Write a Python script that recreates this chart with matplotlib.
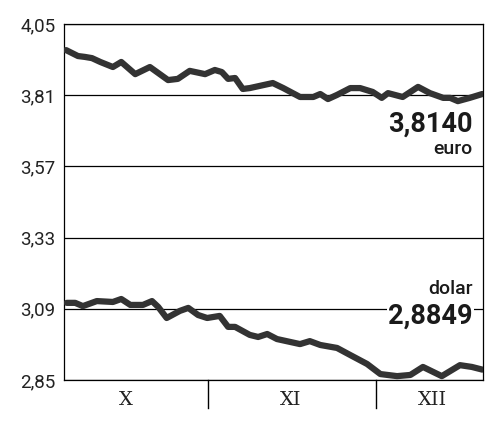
import matplotlib
matplotlib.use("Agg")
from matplotlib import pyplot as plt

# trading-day positions (0..60) and exchange rates
euro_x = [0.3, 2.0, 3.0, 4.0, 5.2, 7.0, 8.2, 10.2, 12.3, 14.9, 16.3, 18.0, 20.2,
          21.6, 22.6, 23.5, 24.5, 25.6, 26.6, 29.9, 31.4, 33.8, 35.7, 36.7, 37.8,
          39.1, 41.0, 42.4, 44.2, 45.5, 46.4, 48.5, 50.7, 52.4, 54.3, 55.3, 56.4,
          58.1, 59.9]
euro_y = [3.962, 3.942, 3.939, 3.935, 3.922, 3.905, 3.922, 3.881, 3.905, 3.861,
          3.865, 3.892, 3.881, 3.895, 3.888, 3.865, 3.868, 3.831, 3.834, 3.851,
          3.834, 3.804, 3.804, 3.814, 3.797, 3.811, 3.834, 3.834, 3.821, 3.801,
          3.817, 3.804, 3.838, 3.817, 3.801, 3.801, 3.790, 3.801, 3.814]

usd_x = [0.4, 1.6, 2.7, 4.7, 7.0, 8.2, 9.5, 11.3, 12.6, 13.5, 14.7, 16.6, 17.8,
         19.2, 20.5, 22.3, 23.5, 24.5, 26.6, 27.8, 29.1, 30.5, 33.8, 35.2, 36.7,
         39.1, 41.0, 43.4, 45.3, 47.7, 49.6, 51.4, 54.1, 56.7, 58.4, 59.9]
usd_y = [3.110, 3.110, 3.099, 3.116, 3.113, 3.123, 3.103, 3.103, 3.116, 3.096,
         3.059, 3.083, 3.093, 3.069, 3.059, 3.066, 3.029, 3.029, 3.002, 2.995,
         3.005, 2.988, 2.971, 2.981, 2.968, 2.958, 2.934, 2.904, 2.870, 2.863,
         2.867, 2.894, 2.863, 2.900, 2.894, 2.885]

yticks = [2.85, 3.09, 3.33, 3.57, 3.81, 4.05]
month_labels = ["X", "XI", "XII"]
month_label_pos = [8.9, 32.5, 52.8]
month_bounds = [20.6, 44.7]

fig = plt.figure(figsize=(5, 4.24), dpi=100)
ax = fig.add_axes([0.128, 0.1038, 0.838, 0.8396])

for v in yticks:
    ax.axhline(v, color="black", lw=0.9, zorder=1)

ax.plot(euro_x, euro_y, color="#333333", lw=4.5, solid_joinstyle="round",
        solid_capstyle="round", zorder=3)
ax.plot(usd_x, usd_y, color="#333333", lw=4.5, solid_joinstyle="round",
        solid_capstyle="round", zorder=3)

ax.set_xlim(0, 60)
ax.set_ylim(2.85, 4.05)
ax.set_yticks(yticks)
ax.set_yticklabels([f"{v:.2f}".replace(".", ",") for v in yticks],
                   fontsize=13.5, family="Roboto", color="#222222")
ax.tick_params(axis="y", length=0, pad=6)
ax.set_xticks([])
for s in ax.spines.values():
    s.set_linewidth(0.9)
    s.set_color("black")

# month separators and labels below the axis
for b in month_bounds:
    ax.axvline(b, ymin=-0.08, ymax=0, color="black", lw=1, clip_on=False)
for pos, lab in zip(month_label_pos, month_labels):
    ax.text(pos, -0.055, lab, transform=ax.get_xaxis_transform(),
            ha="center", va="center", fontsize=14, family="DejaVu Serif",
            color="#222222")

ax.text(0.976, 3.713, "3,8140", transform=ax.get_yaxis_transform(),
        ha="right", va="center", fontsize=19.5, fontweight="bold",
        family="Roboto", color="#1a1a1a", zorder=4)
ax.text(0.976, 3.630, "euro", transform=ax.get_yaxis_transform(),
        ha="right", va="center", fontsize=14, fontweight="medium",
        family="Roboto", color="#1a1a1a", zorder=4)
ax.text(0.976, 3.157, "dolar", transform=ax.get_yaxis_transform(),
        ha="right", va="center", fontsize=14, fontweight="medium",
        family="Roboto", color="#1a1a1a", zorder=4)
ax.text(0.976, 3.066, "2,8849", transform=ax.get_yaxis_transform(),
        ha="right", va="center", fontsize=19.5, fontweight="bold",
        family="Roboto", color="#1a1a1a", zorder=4,
        bbox=dict(facecolor="white", edgecolor="none", pad=1))

fig.savefig("out.png", dpi=100)
